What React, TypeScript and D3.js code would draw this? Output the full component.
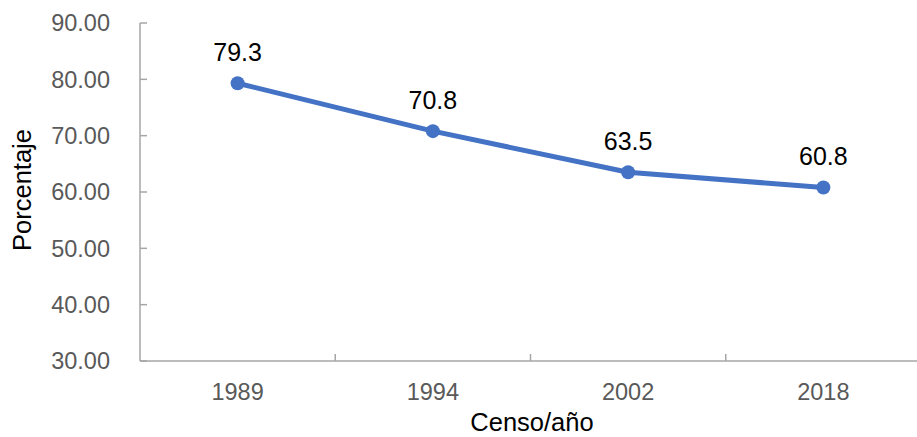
import React from "react";
import * as d3 from "d3";

const categories = ["1989", "1994", "2002", "2018"];
const values = [79.3, 70.8, 63.5, 60.8];
const yTicks = [30, 40, 50, 60, 70, 80, 90];

const W = 917;
const H = 437;
const left = 140;
const right = 921;
const top = 23;
const bottom = 361;

export default function App() {
  const x = d3.scaleBand<string>().domain(categories).range([left, right]).padding(0);
  const y = d3.scaleLinear().domain([30, 90]).range([bottom, top]);
  const line = d3
    .line<number>()
    .x((_, i) => (x(categories[i]) as number) + x.bandwidth() / 2)
    .y((d) => y(d));
  const axisColor = "#a6a6a6";
  const font = "'Liberation Sans', Arial, Helvetica, sans-serif";
  const boundaries = categories.slice(1).map((c) => x(c) as number);

  return (
    <svg
      width={W}
      height={H}
      style={{ position: "absolute", left: 0, top: 0, background: "#fff" }}
      fontFamily={font}
    >
      {/* y axis */}
      <line x1={left} x2={left} y1={top} y2={bottom} stroke={axisColor} strokeWidth={1.5} />
      {yTicks.map((t) => (
        <g key={t}>
          <line x1={left} x2={left + 7} y1={y(t)} y2={y(t)} stroke={axisColor} strokeWidth={1.5} />
          <text x={110} y={y(t)} dy="0.36em" textAnchor="end" fontSize={23.5} fill="#595959">
            {t.toFixed(2)}
          </text>
        </g>
      ))}
      {/* x axis */}
      <line x1={left} x2={W} y1={bottom} y2={bottom} stroke={axisColor} strokeWidth={1.5} />
      {boundaries.map((b, i) => (
        <line key={i} x1={b} x2={b} y1={bottom} y2={bottom - 7} stroke={axisColor} strokeWidth={1.5} />
      ))}
      {categories.map((c) => (
        <text
          key={c}
          x={(x(c) as number) + x.bandwidth() / 2}
          y={400}
          textAnchor="middle"
          fontSize={23.5}
          fill="#595959"
        >
          {c}
        </text>
      ))}
      {/* series */}
      <path d={line(values) || ""} fill="none" stroke="#4472C4" strokeWidth={5} strokeLinejoin="round" />
      {values.map((v, i) => {
        const cx = (x(categories[i]) as number) + x.bandwidth() / 2;
        return (
          <g key={i}>
            <circle cx={cx} cy={y(v)} r={7} fill="#4472C4" />
            <text x={cx} y={y(v) - 22} textAnchor="middle" fontSize={25} fill="#000">
              {v.toFixed(1)}
            </text>
          </g>
        );
      })}
      {/* axis titles */}
      <text
        transform={`translate(31, 190) rotate(-90)`}
        textAnchor="middle"
        fontSize={25.5}
        fill="#000"
      >
        Porcentaje
      </text>
      <text x={532} y={431} textAnchor="middle" fontSize={25.5} fill="#000">
        Censo/año
      </text>
    </svg>
  );
}
